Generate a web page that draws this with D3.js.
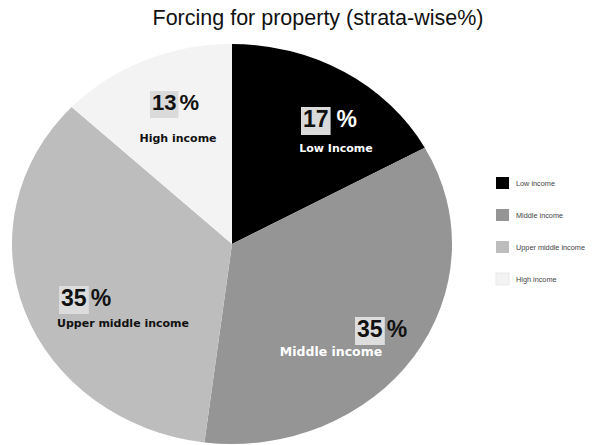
<!DOCTYPE html>
<html>
<head>
<meta charset="utf-8">
<script src="https://cdn.jsdelivr.net/npm/d3@7"></script>
<style>
  html, body { margin: 0; padding: 0; background: #fff; }
  svg { display: block; }
</style>
</head>
<body>
<svg id="chart" width="598" height="445"></svg>
<script>
// Share of forcing for property by income stratum (%)
const categories = ["Low income", "Middle income", "Upper middle income", "High income"];
const values = [17, 35, 35, 13];
const sliceLabels = ["Low Income", "Middle income", "Upper middle income", "High income"];
const legendLabels = ["Low income", "Middle income", "Upper middle income", "High income"];
const title = "Forcing for property (strata-wise%)";

const colors = ["#000000", "#959595", "#bdbdbd", "#f3f3f3"];

const svg = d3.select("#chart");
const cx = 232, cy = 244, R = 200, stretchX = 1.1;

svg.append("text")
  .attr("x", 318).attr("y", 25)
  .attr("text-anchor", "middle")
  .attr("font-family", "Liberation Sans, Arial, sans-serif")
  .attr("font-size", 21.5)
  .attr("fill", "#111")
  .text(title);

const data = categories.map((c, i) => ({ name: c, value: values[i], label: sliceLabels[i], i }));

const pie = d3.pie().sort(null).value(d => d.value).startAngle(0).endAngle(2 * Math.PI);
const arcs = pie(data);
const arc = d3.arc().innerRadius(0).outerRadius(R);

const color = d3.scaleOrdinal().domain(categories).range(colors);

// pie is drawn slightly wider than tall
svg.append("g")
  .attr("transform", `translate(${cx},${cy}) scale(${stretchX},1)`)
  .selectAll("path")
  .data(arcs)
  .join("path")
  .attr("d", arc)
  .attr("fill", d => color(d.data.name));

// label placement for each slice (offsets from pie centre)
const labelLayout = [
  { num: [71, -117], name: [104, -92], gap: 8, numSize: 23, nameSize: 11, numFill: "#111", pctFill: "#fff", nameFill: "#fff", box: "#dadada" },
  { num: [125, 93], name: [99, 112], gap: 4, numSize: 23, nameSize: 12.5, numFill: "#111", pctFill: "#111", nameFill: "#fff", box: "#dedede" },
  { num: [-171, 62], name: [-109, 83], gap: 4, numSize: 23, nameSize: 11, numFill: "#111", pctFill: "#111", nameFill: "#111", box: "#dcdcdc" },
  { num: [-80, -134], name: [-54, -102], gap: 3, numSize: 22, nameSize: 11, numFill: "#111", pctFill: "#111", nameFill: "#111", box: "#dadada" }
];

const labels = svg.append("g").attr("transform", `translate(${cx},${cy})`);

arcs.forEach((a, k) => {
  const L = labelLayout[k];
  const g = labels.append("g").attr("transform", `translate(${L.num[0]},${L.num[1]})`);
  const numText = g.append("text")
    .attr("x", 0).attr("y", 0)
    .attr("font-family", "Liberation Sans, Arial, sans-serif")
    .attr("font-weight", "bold")
    .attr("font-size", L.numSize)
    .attr("fill", L.numFill)
    .text(a.data.value);
  const bb = numText.node().getBBox();
  g.insert("rect", "text")
    .attr("x", bb.x - 2).attr("y", bb.y + 1)
    .attr("width", bb.width + 4).attr("height", bb.height + 2)
    .attr("fill", L.box);
  g.append("text")
    .attr("x", bb.x + bb.width + L.gap).attr("y", 0)
    .attr("font-family", "Liberation Sans, Arial, sans-serif")
    .attr("font-weight", "bold")
    .attr("font-size", L.numSize)
    .attr("fill", L.pctFill)
    .text("%");

  labels.append("text")
    .attr("x", L.name[0]).attr("y", L.name[1])
    .attr("text-anchor", "middle")
    .attr("font-family", "DejaVu Sans, sans-serif")
    .attr("font-weight", "bold")
    .attr("font-size", L.nameSize)
    .attr("fill", L.nameFill)
    .text(a.data.label);
});

// legend
const legendY = d3.scalePoint().domain(legendLabels).range([183, 279]);
const legend = svg.append("g");
legendLabels.forEach((lab, i) => {
  const y = legendY(lab);
  legend.append("rect")
    .attr("x", 496).attr("y", y - 6)
    .attr("width", 13).attr("height", 12)
    .attr("fill", colors[i])
    .attr("stroke", i === 3 ? "#eaeaea" : "none");
  legend.append("text")
    .attr("x", 516).attr("y", y + 2.5)
    .attr("font-family", "Liberation Sans, Arial, sans-serif")
    .attr("font-size", 7.3)
    .attr("fill", "#444")
    .text(lab);
});
</script>
</body>
</html>
